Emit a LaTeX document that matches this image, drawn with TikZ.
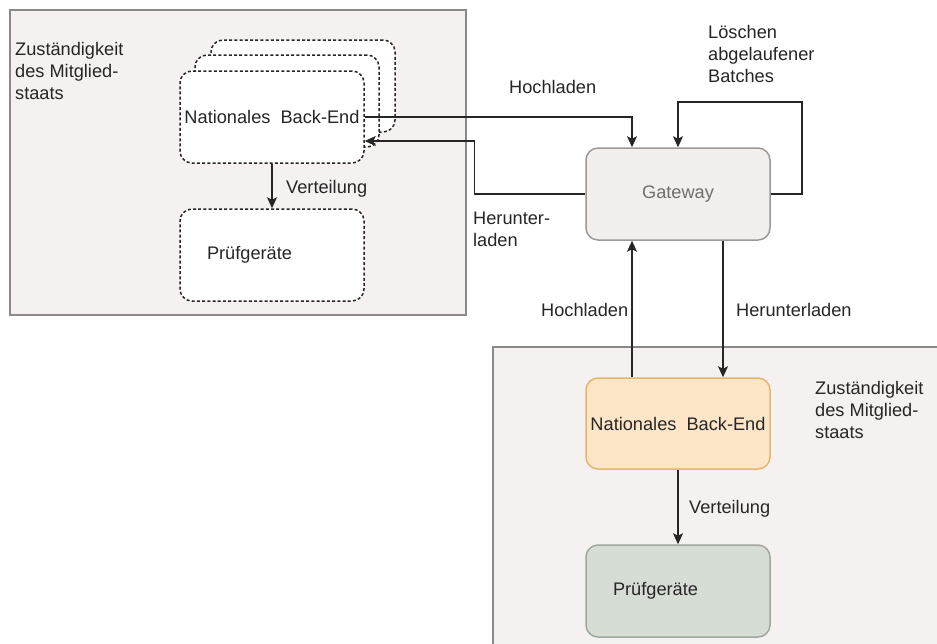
\documentclass[tikz,border=0pt]{standalone}
\usepackage{fontspec}
\setmainfont{Liberation Sans}
\usetikzlibrary{arrows.meta,calc}
\definecolor{zonefill}{HTML}{F4F1F0}
\definecolor{zonedraw}{HTML}{8A8A8A}
\definecolor{gwfill}{HTML}{F2EFED}
\definecolor{gwdraw}{HTML}{9A9A9A}
\definecolor{gwtext}{HTML}{6E6E6E}
\definecolor{orfill}{HTML}{FDE5C8}
\definecolor{ordraw}{HTML}{E3B86E}
\definecolor{grfill}{HTML}{D6DDD4}
\definecolor{grdraw}{HTML}{A0A89E}
\definecolor{ink}{HTML}{262626}
\tikzset{
  every node/.style={font=\fontsize{18.2}{21.8}\selectfont, text=ink},
  zone/.style={fill=zonefill, draw=zonedraw, line width=1.3pt},
  dbox/.style={draw=ink, fill=white, line width=1.5pt, dash pattern=on 3pt off 2.2pt,
    rounded corners=12pt, minimum width=184pt, minimum height=92pt, inner sep=0pt},
  sbox/.style={line width=1.5pt, rounded corners=12pt, minimum width=184pt,
    minimum height=92pt, inner sep=0pt},
  lbl/.style={anchor=west, align=left, inner sep=0pt},
  conn/.style={draw=ink, line width=1.5pt, -{Stealth[length=11pt,width=10pt,inset=2.5pt]}},
}
\begin{document}
\begin{tikzpicture}[x=1pt,y=-1pt]
\useasboundingbox (0,0) rectangle (937,643);
\fill[white] (0,0) rectangle (937,643);
\clip (0,0) rectangle (937,643);
% zones
\draw[zone] (10,10) rectangle (466,315);
\draw[zone] (493,347) rectangle (960,670);
% stacked back-end boxes (left)
\node[dbox] (nbe3) at (303,86) {};
\node[dbox] (nbe2) at (287,101) {};
\node[dbox] (nbe) at (272,117) {Nationales\ \ Back-End};
\node[dbox, text width=130pt, align=left] (pg) at (272,255) {Prüfgeräte};
% gateway and right side
\node[sbox, fill=gwfill, draw=gwdraw, text=gwtext] (gw) at (678,194) {Gateway};
\node[sbox, fill=orfill, draw=ordraw, minimum height=91pt] (nbeR) at (678,423.5) {Nationales\ \ Back-End};
\node[sbox, fill=grfill, draw=grdraw, text width=130pt, align=left] (pgR) at (678,591) {Prüfgeräte};
% labels
\node[lbl] (zust1) at (15,71) {Zuständigkeit\\des Mitglied-\\staats};
\node[lbl] (zust2) at (815,410) {Zuständigkeit\\des Mitglied-\\staats};
\node[lbl] (hochT) at (509,87) {Hochladen};
\node[lbl] (loesch) at (708,54) {Löschen\\abgelaufener\\Batches};
\node[lbl] (herT) at (473,229) {Herunter-\\laden};
\node[lbl] (vertL) at (286,189) {Verteilung};
\node[lbl] (hochB) at (541,310) {Hochladen};
\node[lbl] (herB) at (736,310) {Herunterladen};
\node[lbl] (vertR) at (689,509) {Verteilung};
% connectors
\coordinate (gwUp) at ($(gw.north)+(-46,0)$);
\coordinate (gwDownL) at ($(gw.south)+(-46,0)$);
\coordinate (gwDownR) at ($(gw.south)+(45,0)$);
\draw[conn] (nbe.east) -| (gwUp);
\coordinate (nbeIn) at ($(nbe.east)+(0,24)$);
\draw[conn] (gw.west) -- ++(-111,0) |- (nbeIn);
\draw[conn] (gw.east) -- ++(31,0) -- ++(0,-92) -| (gw.north);
\draw[conn] (nbe.south) -- (pg.north);
\draw[conn] (nbeR.north -| gwDownL) -- (gwDownL);
\draw[conn] (gwDownR) -- (nbeR.north -| gwDownR);
\draw[conn] (nbeR.south) -- (pgR.north);
\end{tikzpicture}
\end{document}
